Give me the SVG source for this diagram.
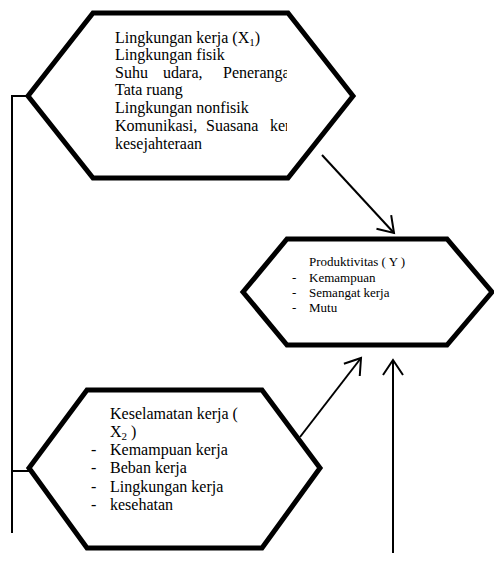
<svg xmlns="http://www.w3.org/2000/svg" width="494" height="565" viewBox="0 0 494 565">
  <style>
    .hex { fill: #ffffff; stroke: #000000; stroke-width: 5; stroke-linejoin: miter; }
    .conn { fill: none; stroke: #000000; stroke-width: 2; }
    .t { font-family: "Liberation Serif", "Times New Roman", serif; fill: #000000; }
    .big { font-size: 16px; }
    .small { font-size: 13px; }
    .sub { font-size: 11px; }
  </style>
  <defs>
    <marker id="arrow" markerUnits="userSpaceOnUse" markerWidth="24" markerHeight="24" refX="16" refY="12" orient="auto">
      <path d="M1,2 L16,12 L1,22" fill="none" stroke="#000000" stroke-width="2"/>
    </marker>
    <clipPath id="clipTop">
      <rect x="100" y="20" width="187" height="150"/>
    </clipPath>
  </defs>

  <!-- connectors -->
  <g id="connectors">
    <polyline class="conn" points="28,96 12,96 12,533"/>
    <line class="conn" x1="12" y1="471" x2="30" y2="471"/>
    <line class="conn" x1="322" y1="155" x2="394" y2="233" marker-end="url(#arrow)"/>
    <line class="conn" x1="300" y1="437" x2="361" y2="358" marker-end="url(#arrow)"/>
    <line class="conn" x1="393" y1="553" x2="393" y2="360" marker-end="url(#arrow)"/>
  </g>

  <!-- work environment -->
  <g id="node-lingkungan">
    <polygon class="hex" points="93,13 288,13 353,96 288,178 93,178 28,96"/>
    <g clip-path="url(#clipTop)" class="t big">
      <text x="115" y="43">Lingkungan kerja (X<tspan class="sub" dy="3">1</tspan><tspan dy="-3">)</tspan></text>
      <text x="115" y="60">Lingkungan fisik</text>
      <text x="115" y="78">Suhu</text>
      <text x="163" y="78">udara,</text>
      <text x="223" y="78">Penerangan</text>
      <text x="115" y="95">Tata ruang</text>
      <text x="115" y="113">Lingkungan nonfisik</text>
      <text x="115" y="131">Komunikasi,</text>
      <text x="206" y="131">Suasana</text>
      <text x="270" y="131">kerja</text>
      <text x="115" y="149">kesejahteraan</text>
    </g>
  </g>

  <!-- productivity -->
  <g id="node-produktivitas">
    <polygon class="hex" points="287,239 447,239 492,292 447,345 287,345 243,292"/>
    <g class="t small">
      <text x="309" y="266">Produktivitas ( Y )</text>
      <text x="292" y="282">-</text>
      <text x="309" y="282">Kemampuan</text>
      <text x="292" y="297">-</text>
      <text x="309" y="297">Semangat kerja</text>
      <text x="292" y="312">-</text>
      <text x="309" y="312">Mutu</text>
    </g>
  </g>

  <!-- work safety -->
  <g id="node-keselamatan">
    <polygon class="hex" points="87,390 262,390 320,468 262,548 87,548 29,468"/>
    <g class="t big">
      <text x="110" y="419">Keselamatan kerja (</text>
      <text x="110" y="437">X<tspan class="sub" dy="3">2</tspan><tspan dy="-3"> )</tspan></text>
      <text x="91" y="455">-</text>
      <text x="110" y="455">Kemampuan kerja</text>
      <text x="91" y="473">-</text>
      <text x="110" y="473">Beban kerja</text>
      <text x="91" y="492">-</text>
      <text x="110" y="492">Lingkungan kerja</text>
      <text x="91" y="510">-</text>
      <text x="110" y="510">kesehatan</text>
    </g>
  </g>
</svg>
